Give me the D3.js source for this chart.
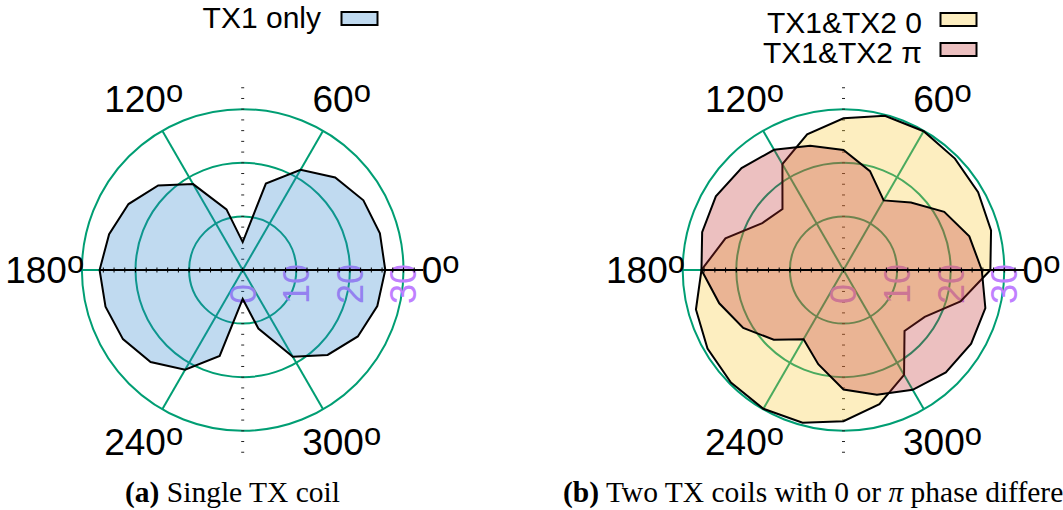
<!DOCTYPE html>
<html>
<head>
<meta charset="utf-8">
<script src="https://cdn.jsdelivr.net/npm/d3@7"></script>
<style>
  body { margin: 0; background: #fff; }
  svg { display: block; }
</style>
</head>
<body>
<svg id="chart" width="1063" height="510"></svg>
<script>
// Measurement angles (degrees) and received field strength per configuration
const angles = [0, 15, 30, 45, 60, 75, 90, 105, 120, 135, 150, 165,
                180, 195, 210, 225, 240, 255, 270, 285, 300, 315, 330, 345];
const tx1Only = [26.6, 26.5, 26.0, 24.4, 21.6, 16.7, 5.2, 11.7, 18.5, 22.3, 24.6, 25.8,
                 26.7, 26.5, 25.8, 24.3, 21.5, 16.6, 5.4, 11.3, 18.7, 22.4, 24.8, 26.0];
const tx12Zero = [27.4, 28.5, 29.0, 29.4, 29.9, 29.8, 28.3, 26.2, 22.8, 16.1, 17.5, 22.8,
                  26.5, 28.5, 29.3, 29.7, 29.9, 29.5, 28.2, 25.9, 22.6, 16.1, 17.5, 22.6];
const tx12Pi = [25.8, 24.3, 21.7, 17.8, 15.0, 19.1, 22.4, 24.0, 25.9, 26.9, 27.5, 27.3,
                26.5, 24.0, 21.6, 18.4, 14.9, 18.2, 22.3, 24.1, 25.8, 27.0, 27.5, 27.4];

const radialTicks = [0, 10, 20, 30];
const gridRadii = [10, 20, 30];
const angleTicks = [0, 60, 120, 180, 240, 300];
const spokeAngles = [0, 60, 120];

const GREEN = "#009e73";
const PURPLE = "#c080ff";
const SANS = "'Liberation Sans', Arial, Helvetica, sans-serif";
const SERIF = "'Liberation Serif', 'Times New Roman', serif";

const svg = d3.select("#chart");
svg.append("rect").attr("width", 1063).attr("height", 510).attr("fill", "#fff");

const rScale = d3.scaleLinear().domain([0, 30]).range([0, 160.8]);
const aScale = d3.scaleLinear().domain([0, 360]).range([0, 2 * Math.PI]);

// d3 radial angles run clockwise from 12 o'clock; data angles run counter-clockwise from 3 o'clock
const radialLine = d3.lineRadial()
  .angle(d => Math.PI / 2 - aScale(d[0]))
  .radius(d => rScale(d[1]))
  .curve(d3.curveLinearClosed);

function drawPanel(cx, cy, series) {
  const g = svg.append("g").attr("transform", `translate(${cx},${cy})`);

  // grid circles
  g.selectAll("circle.grid").data(gridRadii).join("circle")
    .attr("class", "grid").attr("r", d => rScale(d))
    .attr("fill", "none").attr("stroke", GREEN).attr("stroke-width", 2);

  // spokes through the centre
  g.selectAll("line.spoke").data(spokeAngles).join("line")
    .attr("class", "spoke")
    .attr("x1", d => rScale(30) * Math.cos(aScale(d)))
    .attr("y1", d => -rScale(30) * Math.sin(aScale(d)))
    .attr("x2", d => -rScale(30) * Math.cos(aScale(d)))
    .attr("y2", d => rScale(30) * Math.sin(aScale(d)))
    .attr("stroke", GREEN).attr("stroke-width", 2);

  // tick marks along the vertical axis
  g.selectAll("line.vtick").data(d3.range(-34, 35, 2)).join("line")
    .attr("class", "vtick")
    .attr("x1", -1.5).attr("x2", 1.5)
    .attr("y1", d => rScale(d)).attr("y2", d => rScale(d))
    .attr("stroke", "#222").attr("stroke-width", 1);

  // radial tick labels
  g.selectAll("text.rlabel").data(radialTicks).join("text")
    .attr("class", "rlabel")
    .attr("transform", d => `translate(${rScale(d)},34) rotate(-90)`)
    .attr("dy", "0.36em")
    .attr("text-anchor", "start")
    .attr("font-family", SANS).attr("font-size", 36)
    .attr("fill", PURPLE)
    .text(d => d);

  // filled patterns
  series.forEach(s => {
    const pts = angles.map((a, i) => [a, s.values[i]]);
    g.append("path").attr("d", radialLine(pts))
      .attr("fill", s.color).attr("fill-opacity", 0.3).attr("stroke", "none");
    g.append("path").attr("d", radialLine(pts))
      .attr("fill", "none").attr("stroke", "#000").attr("stroke-width", 2)
      .attr("stroke-linejoin", "miter");
  });

  // horizontal axis with ticks
  const leftR = d3.max(series, s => s.values[angles.indexOf(180)]);
  const axisEnd = 33.7;
  g.append("line")
    .attr("x1", -rScale(leftR)).attr("x2", rScale(axisEnd))
    .attr("y1", 0).attr("y2", 0)
    .attr("stroke", "#000").attr("stroke-width", 2);
  g.selectAll("line.htick").data(d3.range(-Math.floor(leftR / 2) * 2, 33, 2)).join("line")
    .attr("class", "htick")
    .attr("x1", d => rScale(d)).attr("x2", d => rScale(d))
    .attr("y1", -2.5).attr("y2", 2.5)
    .attr("stroke", "#000").attr("stroke-width", 1);

  // angular labels
  const R = 198;
  const lab = g.selectAll("text.alabel").data(angleTicks).join("text")
    .attr("class", "alabel")
    .attr("x", d => R * Math.cos(aScale(d)))
    .attr("y", d => -R * Math.sin(aScale(d)) + 13.2)
    .attr("text-anchor", "middle")
    .attr("font-family", SANS).attr("font-size", 37)
    .attr("fill", "#000");
  lab.append("tspan").text(d => d);
  lab.append("tspan").attr("font-size", 31).attr("dy", -10).text("o");
}

drawPanel(242.7, 270, [{ values: tx1Only, color: "#2d84cd" }]);
drawPanel(843.5, 270, [
  { values: tx12Zero, color: "#f8c62d" },
  { values: tx12Pi, color: "#c02d2d" }
]);

// legends
function legendEntry(label, textEnd, baseline, boxX, boxY, color) {
  svg.append("text")
    .attr("x", textEnd).attr("y", baseline)
    .attr("text-anchor", "end")
    .attr("font-family", SANS).attr("font-size", 30)
    .attr("fill", "#000").text(label);
  svg.append("rect").attr("x", boxX).attr("y", boxY)
    .attr("width", 36).attr("height", 13)
    .attr("fill", color).attr("fill-opacity", 0.3)
    .attr("stroke", "#000").attr("stroke-width", 2);
}
legendEntry("TX1 only", 321, 28, 341.5, 12, "#2d84cd");
legendEntry("TX1&TX2 0", 922, 33, 940.5, 13, "#f8c62d");
legendEntry("TX1&TX2 π", 922, 63, 940.5, 43, "#c02d2d");

// sub-figure captions
const capA = svg.append("text").attr("x", 125).attr("y", 502)
  .attr("font-family", SERIF).attr("font-size", 29.5).attr("fill", "#000");
capA.append("tspan").attr("font-weight", "bold").text("(a)");
capA.append("tspan").text(" Single TX coil");

const capB = svg.append("text").attr("x", 563).attr("y", 502)
  .attr("font-family", SERIF).attr("font-size", 29.5).attr("fill", "#000");
capB.append("tspan").attr("font-weight", "bold").text("(b)");
capB.append("tspan").text(" Two TX coils with 0 or ");
capB.append("tspan").attr("font-style", "italic").text("π");
capB.append("tspan").text(" phase difference");
</script>
</body>
</html>
